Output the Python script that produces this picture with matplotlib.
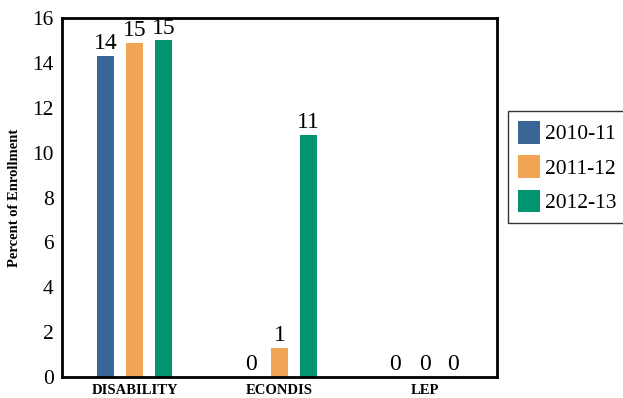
import numpy as np
import matplotlib.pyplot as plt

plt.rcParams['font.family'] = ['Liberation Serif', 'DejaVu Serif']

categories = ['DISABILITY', 'ECONDIS', 'LEP']
years = ['2010-11', '2011-12', '2012-13']
values_1011 = [14.3, 0.0, 0.0]
values_1112 = [14.9, 1.3, 0.0]
values_1213 = [15.0, 10.8, 0.0]
colors = ['#3a6597', '#f0a555', '#009471']

fig = plt.figure(figsize=(6.23, 3.98), dpi=100)
ax = fig.add_axes([62 / 623, 21 / 398, 435 / 623, 359 / 398])

x = np.arange(len(categories))
width = 0.124
offsets = [-0.2, 0.0, 0.2]
series = [values_1011, values_1112, values_1213]

for vals, off, col, lab in zip(series, offsets, colors, years):
    bars = ax.bar(x + off, vals, width, color=col, label=lab)
    for b, v in zip(bars, vals):
        ax.text(b.get_x() + b.get_width() / 2, v + 0.3, str(int(round(v))),
                ha='center', va='baseline', fontsize=17)

ax.set_xlim(-0.5, 2.5)
ax.set_ylim(0, 16)
ax.set_yticks(range(0, 17, 2))
ax.tick_params(axis='y', labelsize=15.5, length=0, pad=6)
ax.tick_params(axis='x', length=0, pad=5)
ax.set_xticks(x)
ax.set_xticklabels(categories, fontsize=10.5, fontweight='bold')
ax.set_ylabel('Percent of Enrollment', fontsize=10.5, fontweight='bold', labelpad=8)
for s in ax.spines.values():
    s.set_linewidth(2)

ax.legend(loc='center left', bbox_to_anchor=(1.026, 0.585), fontsize=15.5,
          frameon=True, fancybox=False, edgecolor='black',
          handlelength=1.0, handleheight=1.25, handletextpad=0.25,
          borderpad=0.45, labelspacing=0.5, borderaxespad=0)

fig.savefig('out.png', dpi=100)
